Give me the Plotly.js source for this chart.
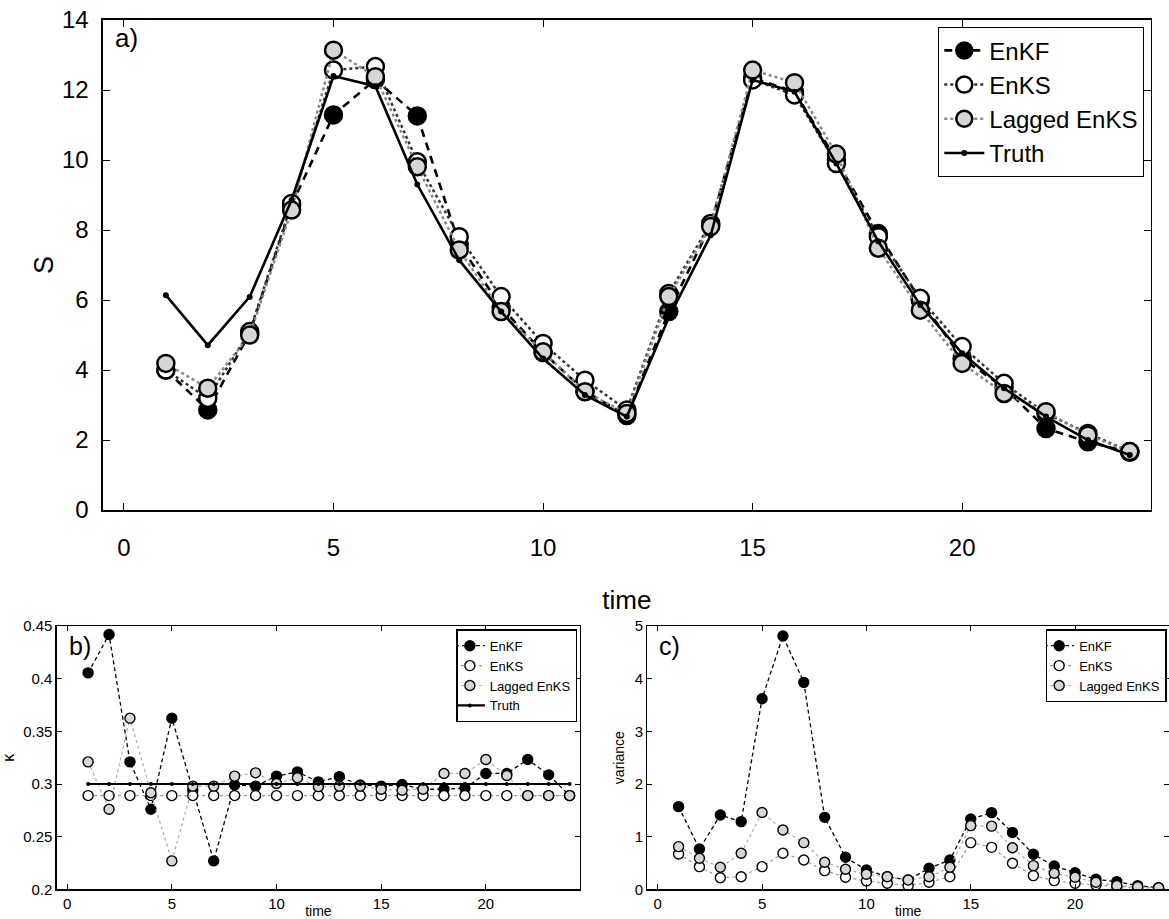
<!DOCTYPE html>
<html>
<head>
<meta charset="utf-8">
<script src="https://cdn.plot.ly/plotly-3.0.1.min.js"></script>
<style>html,body{margin:0;padding:0;background:#fff;}#chart{width:1169px;height:919px;}</style>
</head>
<body>
<div id="chart"></div>
<script>
// ---------------- data ----------------
const time = [1,2,3,4,5,6,7,8,9,10,11,12,13,14,15,16,17,18,19,20,21,22,23,24];

// panel a) state S
const sEnKF   = [4.0, 2.86, 5.05, 8.71, 11.29, 12.3, 11.26, 7.6, 5.8, 4.5, 3.4, 2.7, 5.67, 8.15, 12.35, 11.95, 10.0, 7.9, 6.0, 4.33, 3.5, 2.33, 1.95, 1.65];
const sEnKS   = [4.0, 3.19, 5.1, 8.76, 12.57, 12.67, 9.95, 7.81, 6.1, 4.76, 3.71, 2.86, 6.19, 8.19, 12.29, 11.86, 9.9, 7.81, 6.05, 4.67, 3.62, 2.76, 2.19, 1.67];
const sLagged = [4.19, 3.48, 5.0, 8.57, 13.14, 12.38, 9.81, 7.43, 5.67, 4.52, 3.38, 2.76, 6.1, 8.1, 12.57, 12.21, 10.17, 7.48, 5.71, 4.19, 3.33, 2.81, 2.14, 1.67];
const sTruth  = [6.14, 4.71, 6.09, 8.86, 12.4, 12.11, 9.3, 7.14, 5.67, 4.33, 3.29, 2.67, 5.5, 7.85, 12.29, 11.95, 9.9, 7.67, 5.86, 4.48, 3.48, 2.67, 2.0, 1.57];

// panel b) parameter kappa
const kEnKF   = [0.4055, 0.442, 0.321, 0.276, 0.3625, 0.294, 0.227, 0.299, 0.298, 0.3075, 0.3115, 0.302, 0.307, 0.299, 0.298, 0.2995, 0.295, 0.295, 0.296, 0.31, 0.31, 0.3232, 0.3087, 0.289];
const kEnKS   = [0.289, 0.289, 0.289, 0.289, 0.289, 0.289, 0.289, 0.289, 0.289, 0.289, 0.289, 0.289, 0.289, 0.289, 0.289, 0.289, 0.289, 0.289, 0.289, 0.289, 0.289, 0.289, 0.289, 0.289];
const kLagged = [0.321, 0.276, 0.3625, 0.2917, 0.227, 0.298, 0.298, 0.3075, 0.3106, 0.3005, 0.306, 0.2975, 0.298, 0.298, 0.295, 0.294, 0.295, 0.31, 0.31, 0.3232, 0.308, 0.289, 0.289, 0.289];
const kTruth  = [0.3, 0.3, 0.3, 0.3, 0.3, 0.3, 0.3, 0.3, 0.3, 0.3, 0.3, 0.3, 0.3, 0.3, 0.3, 0.3, 0.3, 0.3, 0.3, 0.3, 0.3, 0.3, 0.3, 0.3];

// panel c) variance
const vEnKF   = [1.57, 0.766, 1.41, 1.285, 3.62, 4.81, 3.93, 1.367, 0.608, 0.367, 0.24, 0.177, 0.4, 0.557, 1.335, 1.456, 1.08, 0.665, 0.443, 0.316, 0.19, 0.146, 0.07, 0.03];
const vEnKS   = [0.67, 0.43, 0.22, 0.24, 0.43, 0.684, 0.557, 0.354, 0.228, 0.158, 0.114, 0.07, 0.133, 0.24, 0.886, 0.797, 0.494, 0.26, 0.165, 0.114, 0.082, 0.05, 0.03, 0.02];
const vLagged = [0.81, 0.59, 0.418, 0.684, 1.46, 1.127, 0.886, 0.513, 0.38, 0.285, 0.24, 0.177, 0.24, 0.418, 1.21, 1.2, 0.79, 0.45, 0.304, 0.228, 0.133, 0.07, 0.05, 0.03];

const names = ['EnKF', 'EnKS', 'Lagged EnKS', 'Truth'];
const panelLabels = ['a)', 'b)', 'c)'];
const axisTitles = {time: 'time', s: 'S', k: 'κ', v: 'variance'};

// ---------------- styles ----------------
const FONT = 'Liberation Sans, Arial, Helvetica, sans-serif';
const GRAYFILL = '#d6d6d6';

function series(x, y, kind, big, xa, ya, leg, show) {
  const ms = big ? 17 : 10;
  const lw = big ? 2.5 : 1.2;
  const mlw = big ? 2.5 : 1.4;
  const base = {x: x, y: y, xaxis: xa, yaxis: ya, legend: leg, showlegend: show, mode: 'lines+markers', type: 'scatter', hoverinfo: 'x+y'};
  if (kind === 0) {
    return Object.assign(base, {name: names[0],
      line: {color: '#000', width: big ? 2.6 : 1.3, dash: big ? '8px,6px' : '4px,3px'},
      marker: {symbol: 'circle', size: ms, color: '#000', line: {color: '#000', width: mlw}}});
  }
  if (kind === 1) {
    return Object.assign(base, {name: names[1],
      line: {color: big ? '#333' : '#999', width: lw, dash: 'dot'},
      marker: {symbol: 'circle', size: ms, color: '#fff', line: {color: '#000', width: mlw}}});
  }
  if (kind === 2) {
    return Object.assign(base, {name: names[2],
      line: {color: big ? '#888' : '#aaa', width: lw, dash: 'dot'},
      marker: {symbol: 'circle', size: ms, color: GRAYFILL, line: {color: '#000', width: mlw}}});
  }
  return Object.assign(base, {name: names[3],
    line: {color: '#000', width: big ? 2.6 : 2.2},
    marker: {symbol: 'circle', size: big ? 6 : 4, color: '#000'}});
}

const data = [
  series(time, sEnKF, 0, true, 'x', 'y', 'legend', true),
  series(time, sEnKS, 1, true, 'x', 'y', 'legend', true),
  series(time, sLagged, 2, true, 'x', 'y', 'legend', true),
  series(time, sTruth, 3, true, 'x', 'y', 'legend', true),
  series(time, kEnKF, 0, false, 'x2', 'y2', 'legend2', true),
  series(time, kEnKS, 1, false, 'x2', 'y2', 'legend2', true),
  series(time, kLagged, 2, false, 'x2', 'y2', 'legend2', true),
  series(time, kTruth, 3, false, 'x2', 'y2', 'legend2', true),
  series(time, vEnKF, 0, false, 'x3', 'y3', 'legend3', true),
  series(time, vEnKS, 1, false, 'x3', 'y3', 'legend3', true),
  series(time, vLagged, 2, false, 'x3', 'y3', 'legend3', true)
];

function ax(extra, big) {
  return Object.assign({
    showline: true, linecolor: '#000', linewidth: big ? 1.6 : 1.3, mirror: 'ticks',
    ticks: 'inside', ticklen: big ? 7 : 5, tickwidth: 1, tickcolor: '#000',
    showgrid: false, zeroline: false, fixedrange: true,
    tickfont: {family: FONT, size: big ? 24 : 15, color: '#000'}
  }, extra);
}

const layout = {
  width: 1169, height: 919,
  margin: {l: 0, r: 0, t: 0, b: 0},
  paper_bgcolor: '#fff', plot_bgcolor: '#fff',
  font: {family: FONT, color: '#000'},
  xaxis: ax({domain: [0.0881, 0.9844], range: [-0.5, 24.5], tickvals: [0,5,10,15,20], anchor: 'y',
    ticklabelstandoff: 16,
    title: {text: axisTitles.time, font: {family: FONT, size: 26}, standoff: 30}}, true),
  yaxis: ax({domain: [0.4450, 0.9782], range: [0, 14], tickvals: [0,2,4,6,8,10,12,14], anchor: 'x',
    ticklabelstandoff: 8,
    title: {text: axisTitles.s, font: {family: FONT, size: 27}, standoff: 0}}, true),
  xaxis2: ax({domain: [0.0485, 0.4962], range: [-0.5, 24.5], tickvals: [0,5,10,15,20], anchor: 'y2',
    title: {text: axisTitles.time, font: {family: FONT, size: 14}, standoff: 0}}, false),
  yaxis2: ax({domain: [0.0323, 0.3188], range: [0.2, 0.45], tickvals: [0.2,0.25,0.3,0.35,0.4,0.45], anchor: 'x2',
    title: {text: axisTitles.k, font: {family: FONT, size: 16}, standoff: 8}}, false),
  xaxis3: ax({domain: [0.5537, 1.0], range: [-0.5, 24.5], tickvals: [0,5,10,15,20], anchor: 'y3',
    title: {text: axisTitles.time, font: {family: FONT, size: 14}, standoff: 0}}, false),
  yaxis3: ax({domain: [0.0323, 0.3188], range: [0, 5], tickvals: [0,1,2,3,4,5], anchor: 'x3',
    title: {text: axisTitles.v, font: {family: FONT, size: 14}, standoff: 6}}, false),
  legend: {x: 0.9786, y: 0.9706, xanchor: 'right', yanchor: 'top', bgcolor: '#fff',
    bordercolor: '#000', borderwidth: 1.3, font: {family: FONT, size: 24, color: '#000'},
    tracegroupgap: 0, itemwidth: 40, borderpad: 1},
  legend2: {x: 0.4939, y: 0.3153, xanchor: 'right', yanchor: 'top', bgcolor: '#fff',
    bordercolor: '#000', borderwidth: 1.5, font: {family: FONT, size: 13, color: '#000'},
    tracegroupgap: 0, itemwidth: 30, borderpad: 1, indentation: -8},
  legend3: {x: 0.998, y: 0.3153, xanchor: 'right', yanchor: 'top', bgcolor: '#fff',
    bordercolor: '#000', borderwidth: 1.5, font: {family: FONT, size: 13, color: '#000'},
    tracegroupgap: 0, itemwidth: 30, borderpad: 1, indentation: -8},
  annotations: [
    {text: panelLabels[0], xref: 'paper', yref: 'paper', x: 0.097, y: 0.977, xanchor: 'left', yanchor: 'top',
     showarrow: false, font: {family: FONT, size: 26, color: '#000'}},
    {text: panelLabels[1], xref: 'paper', yref: 'paper', x: 0.057, y: 0.3145, xanchor: 'left', yanchor: 'top',
     showarrow: false, font: {family: FONT, size: 25, color: '#000'}},
    {text: panelLabels[2], xref: 'paper', yref: 'paper', x: 0.562, y: 0.3145, xanchor: 'left', yanchor: 'top',
     showarrow: false, font: {family: FONT, size: 25, color: '#000'}}
  ]
};

Plotly.newPlot('chart', data, layout, {displayModeBar: false, staticPlot: true});
</script>
</body>
</html>
